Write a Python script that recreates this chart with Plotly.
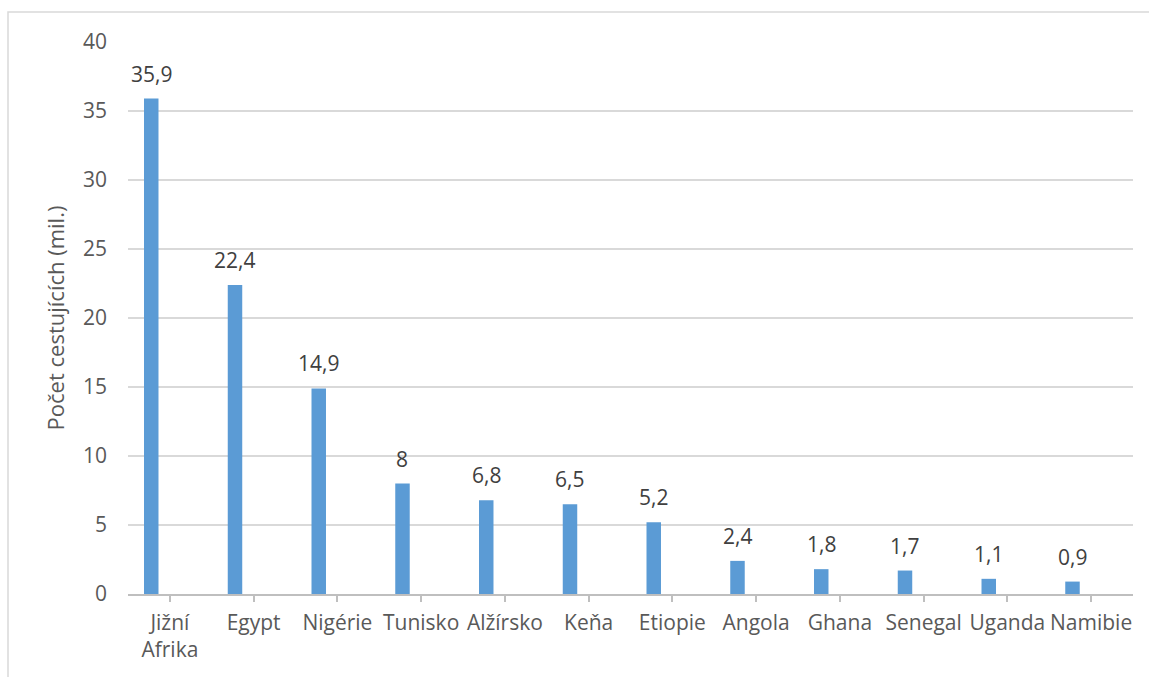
import plotly.graph_objects as go

categories = ["Jižní<br>Afrika", "Egypt", "Nigérie", "Tunisko", "Alžírsko", "Keňa",
              "Etiopie", "Angola", "Ghana", "Senegal", "Uganda", "Namibie"]
values = [35.9, 22.4, 14.9, 8, 6.8, 6.5, 5.2, 2.4, 1.8, 1.7, 1.1, 0.9]
value_labels = ["35,9", "22,4", "14,9", "8", "6,8", "6,5", "5,2", "2,4", "1,8", "1,7", "1,1", "0,9"]
y_ticks = [0, 5, 10, 15, 20, 25, 30, 35, 40]

FONT = "Open Sans"
TXT = "#595959"
FS = 21
BAR_W = 0.173
BAR_OFF = -0.309

fig = go.Figure()
fig.add_trace(go.Bar(
    x=list(range(len(categories))), y=values,
    width=BAR_W, offset=BAR_OFF,
    marker=dict(color="#5B9BD5", line=dict(width=0)),
    hoverinfo="skip",
))

for i, (v, lab) in enumerate(zip(values, value_labels)):
    fig.add_annotation(x=i + BAR_OFF + BAR_W / 2, y=v, text=lab, showarrow=False,
                       yanchor="middle", yshift=25, xref="x", yref="y",
                       font=dict(family=FONT, size=FS, color="#404040"))

fig.add_shape(type="rect", xref="paper", yref="paper",
              x0=-0.1194, x1=1.5, y0=-0.5, y1=1.0543,
              line=dict(color="#D9D9D9", width=1.5), fillcolor="rgba(0,0,0,0)", layer="below")

fig.update_layout(
    width=1149, height=677,
    margin=dict(l=128, r=16, t=42, b=83),
    paper_bgcolor="white", plot_bgcolor="white",
    showlegend=False,
    font=dict(family=FONT, size=FS, color=TXT),
    xaxis=dict(
        tickmode="array", tickvals=list(range(len(categories))), ticktext=categories,
        range=[-0.5, len(categories) - 0.5],
        showgrid=False, showline=True, linecolor="#BFBFBF", linewidth=1.5,
        ticks="outside", tickson="boundaries", ticklen=6, tickcolor="#BFBFBF", tickwidth=1.5,
        tickfont=dict(family=FONT, size=FS, color=TXT),
        ticklabelstandoff=3,
    ),
    yaxis=dict(
        range=[0, 40], tickvals=y_ticks,
        showgrid=True, gridcolor="#D9D9D9", gridwidth=1.5,
        showline=False, zeroline=False,
        tickfont=dict(family=FONT, size=FS, color=TXT),
        ticklabelstandoff=20,
        title=dict(text="Počet cestujících (mil.)", standoff=12,
                   font=dict(family=FONT, size=22, color=TXT)),
    ),
)

fig.write_html("out.html")
